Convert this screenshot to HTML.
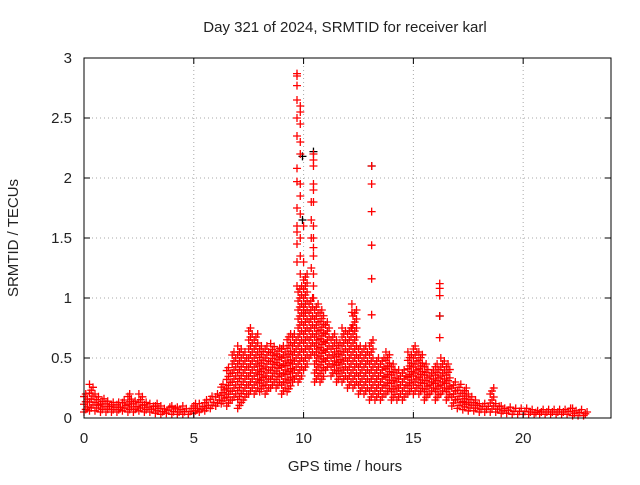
<!DOCTYPE html>
<html><head><meta charset="utf-8"><style>
body{margin:0;background:#fff}
svg text{font-family:"Liberation Sans",sans-serif;font-size:15px;fill:#222}
</style></head><body>
<svg id="c" width="640" height="480">
<text x="345" y="32" text-anchor="middle">Day 321 of 2024, SRMTID for receiver karl</text>
<text x="345" y="471" text-anchor="middle">GPS time / hours</text>
<text transform="translate(18,238) rotate(-90)" text-anchor="middle">SRMTID / TECUs</text>
<g id="grid"></g><g id="marks"></g>
<rect x="84" y="58" width="527" height="360" fill="none" stroke="#000" stroke-width="1"/>
<g id="ticks"></g>
</svg>
<script>
const cloudT=[0,0.25,0.5,0.75,1,1.25,1.5,1.75,2,2.25,2.5,2.75,3,3.25,3.5,3.75,4,4.25,4.5,4.75,5,5.25,5.5,5.75,6,6.25,6.5,6.75,7,7.25,7.5,7.75,8,8.25,8.5,8.75,9,9.25,9.5,9.75,10,10.25,10.5,10.75,11,11.25,11.5,11.75,12,12.25,12.5,12.75,13,13.25,13.5,13.75,14,14.25,14.5,14.75,15,15.25,15.5,15.75,16,16.25,16.5,16.75,17,17.25,17.5,17.75,18,18.25,18.5,18.75,19,19.25,19.5,19.75,20,20.25,20.5,20.75,21,21.25,21.5,21.75,22,22.25,22.5,22.75];
const cloudLo=[.05,.06,.06,.05,.05,.05,.05,.06,.05,.05,.06,.05,.05,.04,.03,.04,.03,.03,.03,.03,.04,.05,.06,.08,.1,.12,.1,.15,.08,.15,.2,.2,.22,.2,.25,.25,.2,.22,.3,.3,.4,.5,.3,.3,.4,.35,.3,.3,.25,.25,.2,.2,.15,.15,.15,.2,.15,.15,.15,.2,.2,.2,.15,.2,.15,.2,.15,.1,.08,.07,.06,.06,.05,.05,.05,.05,.04,.04,.03,.03,.03,.03,.03,.03,.03,.03,.03,.03,.03,.02,.02,.02];
const cloudHi=[.2,.28,.2,.16,.14,.13,.13,.15,.2,.14,.2,.13,.12,.12,.1,.09,.1,.09,.1,.08,.12,.12,.15,.18,.2,.28,.42,.55,.6,.55,.75,.7,.6,.6,.62,.58,.6,.7,.7,1.1,1.2,1.0,.95,.9,.8,.7,.65,.75,.75,.9,.6,.6,.65,.5,.5,.55,.45,.4,.4,.55,.6,.55,.45,.4,.45,.5,.45,.3,.28,.25,.2,.15,.12,.12,.25,.12,.1,.09,.08,.08,.08,.07,.06,.07,.07,.07,.07,.07,.08,.08,.07,.05];
const spikeT=[9.7,9.7,9.7,9.7,9.7,9.7,9.7,9.7,9.7,9.7,9.7,9.7,9.7,9.7,9.85,9.85,9.85,9.85,9.85,9.85,9.85,9.85,9.85,9.85,9.85,10.45,10.45,10.45,10.45,10.45,10.45,10.45,10.45,10.45,10.45,10.45,10.45,10.45,10.35,10.35,10.35,10.35,13.1,13.1,13.1,13.1,13.1,13.1,16.2,16.2,16.2,16.2,16.2,12.2,12.2,12.2,10,10,10];
const spikeV=[2.87,2.85,2.77,2.65,2.5,2.35,2.08,1.97,1.75,1.6,1.55,1.45,1.3,1.1,2.6,2.55,2.45,2.3,2.2,1.95,1.85,1.7,1.5,1.35,1.2,2.2,2.15,2.1,1.95,1.9,1.8,1.6,1.5,1.42,1.35,1.2,1.1,1.0,1.8,1.65,1.5,1.25,2.1,1.95,1.72,1.44,1.16,0.86,1.12,1.08,1.02,0.85,0.67,.95,.88,.75,1.6,1.3,.9];
const blackT=[9.95,9.95,10.45,13.1,16.2];
const blackV=[2.18,1.65,2.22,2.1,0.85];
const xTicks=[0,5,10,15,20];
const yTicks=[0,0.5,1,1.5,2,2.5,3];
const yLabels=["0","0.5","1","1.5","2","2.5","3"];
const X=t=>84+t*(527/24), Y=v=>418-v*120;
const NS="http://www.w3.org/2000/svg";
const grid=document.getElementById('grid'),marks=document.getElementById('marks'),ticks=document.getElementById('ticks');
function line(g,x1,y1,x2,y2,st,dash){const l=document.createElementNS(NS,'line');l.setAttribute('x1',x1);l.setAttribute('y1',y1);l.setAttribute('x2',x2);l.setAttribute('y2',y2);l.setAttribute('stroke',st);if(dash)l.setAttribute('stroke-dasharray',dash);g.appendChild(l);return l;}
function txt(x,y,s,a){const t=document.createElementNS(NS,'text');t.setAttribute('x',x);t.setAttribute('y',y);t.setAttribute('text-anchor',a);t.textContent=s;ticks.appendChild(t);return t;}
xTicks.forEach(v=>{const x=X(v);
 if(v>0){const g=line(grid,x,58,x,418,'#aaa','1,3');}
 line(ticks,x,418,x,412,'#000');line(ticks,x,58,x,64,'#000');
 const t=txt(x,443,String(v),'middle');
 
 });
yTicks.forEach((v,i)=>{const y=Y(v);
 if(v>0&&v<3){const g=line(grid,84,y,611,y,'#aaa','1,3');}
 line(ticks,84,y,90,y,'#000');line(ticks,611,y,605,y,'#000');
 const t=txt(72,y+5,yLabels[i],'end');
 
 });
function plus(t,v,c,name){const x=X(t),y=Y(v);const p=document.createElementNS(NS,'path');
 p.setAttribute('d',`M${x-4} ${y}H${x+4}M${x} ${y-4}V${y+4}`);p.setAttribute('stroke',c);p.setAttribute('stroke-width','1.3');
 
 
 marks.appendChild(p);}
blackT.forEach((t,i)=>plus(t,blackV[i],'#000','black-point'));
cloudT.forEach((t,i)=>{const lo=cloudLo[i],hi=cloudHi[i];const n=Math.max(3,Math.ceil((hi-lo)*120/3)+1);
 for(let k=0;k<n;k++){const v=lo+(hi-lo)*k/(n-1);plus(t+[0,0.08,0.16][k%3],v,'#f00','red-point');}});
spikeT.forEach((t,i)=>plus(t,spikeV[i],'#f00','red-spike-point'));
</script>
</body></html>
